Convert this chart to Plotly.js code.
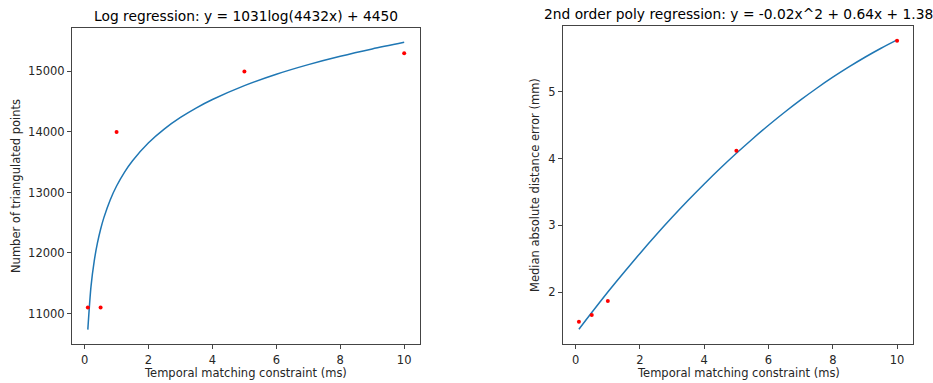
<!DOCTYPE html>
<html>
<head>
<meta charset="utf-8">
<script src="https://cdn.plot.ly/plotly-3.0.1.min.js"></script>
<style>html,body{margin:0;padding:0;background:#fff;}#chart{width:933px;height:383px;}</style>
</head>
<body>
<div id="chart"></div>
<script>
// Left panel: number of triangulated points
const constraintMs = [0.1, 0.5, 1, 5, 10];
const triangulatedPoints = [11100, 11100, 14000, 15000, 15300];
const logFitX = [0.1, 0.2, 0.3, 0.4, 0.5, 0.6, 0.8, 1.0, 1.25, 1.5, 2, 2.5, 3, 3.5, 4, 5, 6, 7, 8, 9, 10];
const logFitY = [10733, 11448, 11866, 12162, 12392, 12580, 12877, 13107, 13337, 13525, 13822, 14052, 14240, 14399, 14536, 14766, 14954, 15113, 15251, 15372, 15481];

// Right panel: median absolute distance error
const medianError = [1.556, 1.656, 1.865, 4.117, 5.767];
const polyFitX = [0.1, 0.5, 1, 1.5, 2, 2.5, 3, 3.5, 4, 4.5, 5, 5.5, 6, 6.5, 7, 7.5, 8, 8.5, 9, 9.5, 10];
const polyFitY = [1.444, 1.695, 2.0, 2.295, 2.58, 2.855, 3.12, 3.375, 3.62, 3.855, 4.08, 4.295, 4.5, 4.695, 4.88, 5.055, 5.22, 5.375, 5.52, 5.655, 5.78];

const xTicks = [0, 2, 4, 6, 8, 10];
const leftYTicks = [11000, 12000, 13000, 14000, 15000];
const rightYTicks = [2, 3, 4, 5];

const titleLeft = "Log regression: y = 1031log(4432x) + 4450";
const titleRight = "2nd order poly regression: y = -0.02x^2 + 0.64x + 1.38";
const xLabel = "Temporal matching constraint (ms)";
const yLabelLeft = "Number of triangulated points";
const yLabelRight = "Median absolute distance error (mm)";

const W = 933, H = 383;
const FAM = "DejaVu Sans, sans-serif";
const tickFont = {family: FAM, size: 11.5, color: "#262626"};
const labelFont = {family: FAM, size: 11.5, color: "#262626"};
const titleFont = {family: FAM, size: 13.8, color: "#000"};

const traces = [
  {x: logFitX, y: logFitY, type: "scatter", mode: "lines", line: {color: "#1f77b4", width: 1.5, shape: "spline", smoothing: 0.8}, xaxis: "x", yaxis: "y", hoverinfo: "skip"},
  {x: constraintMs, y: triangulatedPoints, type: "scatter", mode: "markers", marker: {color: "#ff0000", size: 4}, xaxis: "x", yaxis: "y"},
  {x: polyFitX, y: polyFitY, type: "scatter", mode: "lines", line: {color: "#1f77b4", width: 1.5, shape: "spline", smoothing: 0.8}, xaxis: "x2", yaxis: "y2", hoverinfo: "skip"},
  {x: constraintMs, y: medianError, type: "scatter", mode: "markers", marker: {color: "#ff0000", size: 4}, xaxis: "x2", yaxis: "y2"}
];

function axisBase() {
  return {
    showgrid: false, zeroline: false, showline: true, mirror: true,
    linecolor: "#444", linewidth: 1,
    ticks: "outside", ticklen: 4, tickwidth: 1, tickcolor: "#444",
    tickfont: tickFont, automargin: false
  };
}

const layout = {
  width: W, height: H,
  margin: {l: 0, r: 0, t: 0, b: 0},
  paper_bgcolor: "#fff", plot_bgcolor: "#fff",
  showlegend: false,
  font: tickFont,
  xaxis: Object.assign(axisBase(), {
    domain: [72 / W, 420 / W], range: [-0.395, 10.495], anchor: "y",
    tickvals: xTicks, ticktext: xTicks.map(String), ticklabelstandoff: 1
  }),
  yaxis: Object.assign(axisBase(), {
    domain: [1 - 344 / H, 1 - 28 / H], range: [10496, 15718], anchor: "x",
    tickvals: leftYTicks, ticktext: leftYTicks.map(String)
  }),
  xaxis2: Object.assign(axisBase(), {
    domain: [563 / W, 913 / W], range: [-0.395, 10.495], anchor: "y2",
    tickvals: xTicks, ticktext: xTicks.map(String), ticklabelstandoff: 1
  }),
  yaxis2: Object.assign(axisBase(), {
    domain: [1 - 344 / H, 1 - 26 / H], range: [1.222, 5.988], anchor: "x2",
    tickvals: rightYTicks, ticktext: rightYTicks.map(String)
  }),
  annotations: [
    {text: titleLeft, xref: "paper", yref: "paper", x: 246 / W, y: 1 - 16 / H, xanchor: "center", yanchor: "middle", showarrow: false, font: titleFont},
    {text: titleRight, xref: "paper", yref: "paper", x: 738 / W, y: 1 - 14 / H, xanchor: "center", yanchor: "middle", showarrow: false, font: titleFont},
    {text: xLabel, xref: "paper", yref: "paper", x: 246 / W, y: 1 - 373 / H, xanchor: "center", yanchor: "middle", showarrow: false, font: labelFont},
    {text: xLabel, xref: "paper", yref: "paper", x: 738 / W, y: 1 - 373 / H, xanchor: "center", yanchor: "middle", showarrow: false, font: labelFont},
    {text: yLabelLeft, xref: "paper", yref: "paper", x: 16 / W, y: 1 - 186 / H, xanchor: "center", yanchor: "middle", textangle: -90, showarrow: false, font: labelFont},
    {text: yLabelRight, xref: "paper", yref: "paper", x: 535 / W, y: 1 - 185 / H, xanchor: "center", yanchor: "middle", textangle: -90, showarrow: false, font: labelFont}
  ]
};

Plotly.newPlot("chart", traces, layout, {staticPlot: true, displayModeBar: false});
</script>
</body>
</html>
